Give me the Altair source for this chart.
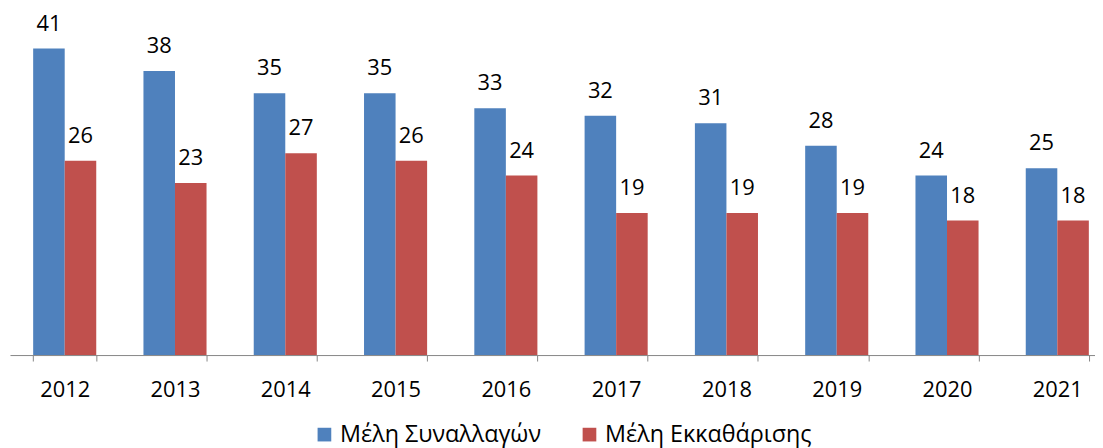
import altair as alt
import pandas as pd

years = ["2012", "2013", "2014", "2015", "2016", "2017", "2018", "2019", "2020", "2021"]
trading = [41, 38, 35, 35, 33, 32, 31, 28, 24, 25]
clearing = [26, 23, 27, 26, 24, 19, 19, 19, 18, 18]
series_names = ["Μέλη Συναλλαγών", "Μέλη Εκκαθάρισης"]
colors = ["#4F81BD", "#C0504D"]

rows = []
for i, y in enumerate(years):
    rows.append({"year": y, "series": series_names[0], "value": trading[i]})
    rows.append({"year": y, "series": series_names[1], "value": clearing[i]})
df = pd.DataFrame(rows)

FONT = "Open Sans"

x_enc = alt.X("year:N", sort=years, title=None,
              scale=alt.Scale(paddingInner=0.428, paddingOuter=0.133, align=0.79, round=False),
              axis=alt.Axis(labelAngle=0, tickBand="extent", tickSize=6,
                            tickColor="#868686", domainColor="#868686",
                            labelFont=FONT, labelFontSize=22, labelColor="#000000",
                            labelPadding=19))
xoff = alt.XOffset("series:N", sort=series_names)
y_enc = alt.Y("value:Q", scale=alt.Scale(domain=[0, 46.2], nice=False, zero=True),
              axis=None)

bars = alt.Chart(df).mark_bar().encode(
    x=x_enc, xOffset=xoff, y=y_enc,
    color=alt.Color("series:N", sort=series_names,
                    scale=alt.Scale(domain=series_names, range=colors),
                    legend=alt.Legend(title=None, orient="none", direction="horizontal",
                                      legendX=305, legendY=416,
                                      symbolType="square", symbolSize=190,
                                      symbolStrokeWidth=0,
                                      labelFont=FONT, labelFontSize=23.5, labelColor="#000000",
                                      columnPadding=36, labelLimit=400))
)

labels = alt.Chart(df).mark_text(baseline="alphabetic", dy=-18, font=FONT, fontSize=22,
                                 color="#000000").encode(
    x=alt.X("year:N", sort=years), xOffset=xoff, y=alt.Y("value:Q"),
    text=alt.Text("value:Q")
)

chart = alt.layer(bars, labels).properties(
    width=1093, height=348,
    padding={"left": 2, "top": 0, "right": 0, "bottom": 0}
).configure_view(stroke=None).configure_axis(grid=False)

chart.save("out.html", embed_options={"renderer": "svg", "actions": False})
